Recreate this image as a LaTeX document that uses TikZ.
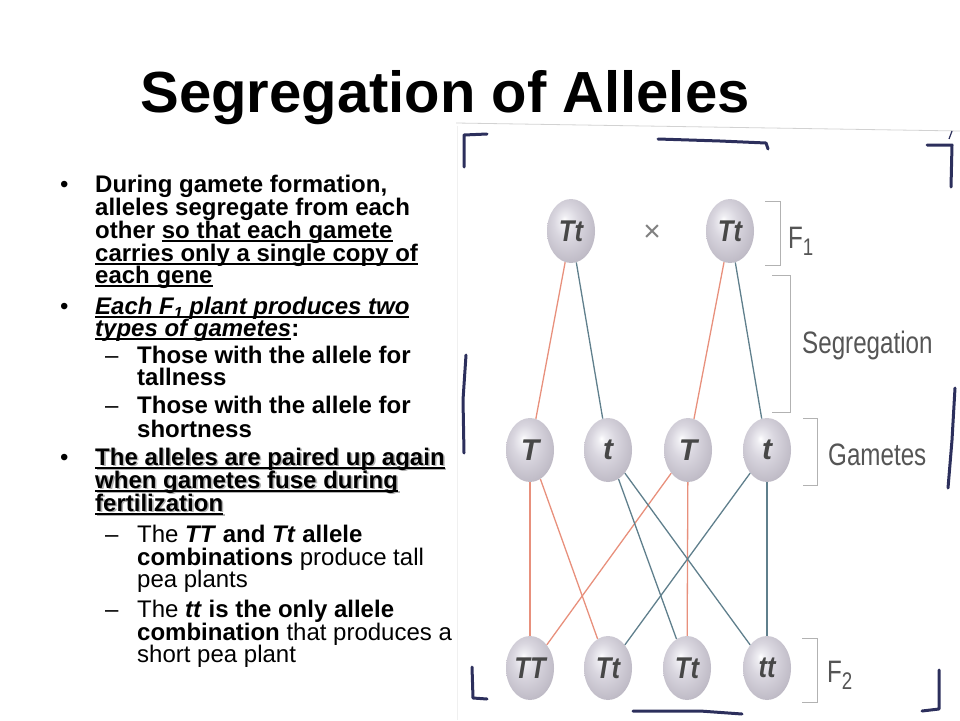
\documentclass[tikz,border=0pt]{standalone}
\usepackage{fontspec}
\setmainfont{Liberation Sans}
\usepackage{graphicx}
\usetikzlibrary{shapes.geometric}

\definecolor{redline}{HTML}{E8907C}
\definecolor{blueline}{HTML}{5F7F8C}
\definecolor{pen}{HTML}{2C2F5C}
\definecolor{labgray}{HTML}{555555}
\definecolor{peaA}{HTML}{EEEDF2}
\definecolor{peaB}{HTML}{D9D6DF}
\definecolor{peaC}{HTML}{C2BEC9}
\definecolor{peaD}{HTML}{A29EAA}
\pgfdeclareradialshading{pea}{\pgfpoint{-7bp}{9bp}}{color(0bp)=(white); color(4bp)=(peaA); color(13bp)=(peaB); color(27bp)=(peaC); color(42bp)=(peaD); color(50bp)=(peaD)}

% underline that runs through the descenders
\newcommand\uln[1]{\setbox0\hbox{#1}\rlap{\rule[-3.6pt]{\wd0}{1.8pt}}\box0}
% grey drop shadow
\newcommand\shd[1]{\rlap{\kern1.6pt\raisebox{-1.6pt}{\color{black!30}#1}}#1}
% narrow text
\newcommand\narrow[1]{\scalebox{0.78}[1]{#1}}

\tikzset{
  body/.style={anchor=base west, inner sep=0pt, font=\fontsize{24}{27}\selectfont\bfseries},
  bul/.style={anchor=base west, inner sep=0pt, font=\fontsize{24}{27}\selectfont},
  pea/.style={ellipse, minimum width=48pt, minimum height=64pt, inner sep=0pt,
    shading=pea, text=black!72, font=\fontsize{30}{30}\selectfont\bfseries\itshape},
  big/.style={redline, line width=1.3pt},
  small/.style={blueline, line width=1.3pt},
  brace/.style={gray!60, line width=0.8pt},
  lab/.style={anchor=base west, inner sep=0pt, text=labgray, font=\fontsize{31}{31}\selectfont},
  marker/.style={pen, line width=3pt, line cap=round, line join=round}
}

\begin{document}
\begin{tikzpicture}[x=1pt, y=-1pt]
  \useasboundingbox (0,0) rectangle (960,720);

  \node[anchor=base, inner sep=0pt, font=\fontsize{58}{60}\selectfont\bfseries] (title) at (445,112) {Segregation of Alleles};

  % left column
  \node[bul] (d1) at (60,192) {•};
  \node[body] (b1a) at (95,192) {During gamete formation,};
  \node[body] (b1b) at (95,215) {alleles segregate from each};
  \node[body] (b1c) at (95,238) {other \uln{so that each gamete}};
  \node[body] (b1d) at (95,261) {\uln{carries only a single copy of}};
  \node[body] (b1e) at (95,283) {\uln{each gene}};

  \node[bul] (d2) at (60,314) {•};
  \node[body] (b2a) at (95,314) {\uln{\itshape Each F\raisebox{-4pt}{\fontsize{16}{16}\selectfont 1} plant produces two}};
  \node[body] (b2b) at (95,336) {\uln{\itshape types of gametes}:};
  \node[bul] (s1) at (105,363) {–};
  \node[body] (b2c) at (137,363) {Those with the allele for};
  \node[body] (b2d) at (137,385) {tallness};
  \node[bul] (s2) at (105,413) {–};
  \node[body] (b2e) at (137,413) {Those with the allele for};
  \node[body] (b2f) at (137,437) {shortness};

  \node[bul] (d3) at (60,465) {•};
  \node[body] (b3a) at (95,465) {\shd{\uln{The alleles are paired up again}}};
  \node[body] (b3b) at (95,488) {\shd{\uln{when gametes fuse during}}};
  \node[body] (b3c) at (95,511) {\shd{\uln{fertilization}}};
  \node[bul] (s3) at (105,542) {–};
  \node[body] (b3d) at (137,542) {{\mdseries The} \textit{TT} and \textit{Tt} allele};
  \node[body] (b3e) at (137,565) {combinations {\mdseries produce tall}};
  \node[body] (b3f) at (137,587) {\mdseries pea plants};
  \node[bul] (s4) at (105,617) {–};
  \node[body] (b3g) at (137,617) {{\mdseries The} \textit{tt} is the only allele};
  \node[body] (b3h) at (137,640) {combination {\mdseries that produces a}};
  \node[body] (b3i) at (137,662) {\mdseries short pea plant};

  % scanned figure
  \draw[gray!35, line width=0.8pt] (456,123) -- (960,131);
  \draw[gray!12, line width=0.6pt] (457,126) -- (457,720);

  \node[pea] (p1) at (571,231) {\scalebox{0.85}[1]{Tt}};
  \node[pea] (p2) at (730,231) {\scalebox{0.85}[1]{Tt}};
  \node[inner sep=0pt, text=gray, font=\fontsize{30}{30}\selectfont] (cross) at (652,233) {×};

  \node[pea] (g1) at (530,450) {T};
  \node[pea] (g2) at (608,450) {t};
  \node[pea] (g3) at (688,450) {T};
  \node[pea] (g4) at (767,450) {t};

  \node[pea] (f1) at (530,668) {\scalebox{0.85}[1]{TT}};
  \node[pea] (f2) at (608,668) {\scalebox{0.85}[1]{Tt}};
  \node[pea] (f3) at (687,668) {\scalebox{0.85}[1]{Tt}};
  \node[pea] (f4) at (767,668) {\scalebox{0.85}[1]{tt}};

  \draw[big] (p1) -- (g1);
  \draw[small] (p1) -- (g2);
  \draw[big] (p2) -- (g3);
  \draw[small] (p2) -- (g4);

  \draw[big] (g1) -- (f1);
  \draw[big] (g1) -- (f2);
  \draw[big] (g3) -- (f1);
  \draw[big] (g3) -- (f3);
  \draw[small] (g2) -- (f3);
  \draw[small] (g2) -- (f4);
  \draw[small] (g4) -- (f2);
  \draw[small] (g4) -- (f4);

  % brackets and labels
  \draw[brace] (765,201) -- (780,201) -- (780,265) -- (765,265);
  \draw[brace] (772,275) -- (790,275) -- (790,412) -- (772,412);
  \draw[brace] (803,418) -- (817,418) -- (817,485) -- (803,485);
  \draw[brace] (802,638) -- (817,638) -- (817,702) -- (802,702);
  \node[lab] (lf1) at (788,248) {\narrow{F\raisebox{-7pt}{\fontsize{24}{24}\selectfont 1}}};
  \node[lab] (lseg) at (802,353) {\narrow{Segregation}};
  \node[lab] (lgam) at (828,465) {\narrow{Gametes}};
  \node[lab] (lf2) at (827,682) {\narrow{F\raisebox{-7pt}{\fontsize{24}{24}\selectfont 2}}};

  % pen marks
  \draw[marker] (487,134) -- (464,135) -- (464,167);
  \draw[marker] (658,139) -- (720,141) -- (766,143) -- (768,149);
  \draw[marker] (927,145) -- (952,145) -- (951,187);
  \draw[pen, line width=1.2pt] (949,139) -- (952,131);
  \draw[marker] (466,355) -- (463,400) -- (464,453);
  \draw[marker] (955,388) -- (952,440) -- (948,488);
  \draw[marker] (472,667) -- (473,698) -- (487,699);
  \draw[marker] (633,711) -- (700,711) -- (742,714);
  \draw[marker] (922,711) -- (939,709) -- (939,670);
\end{tikzpicture}
\end{document}
